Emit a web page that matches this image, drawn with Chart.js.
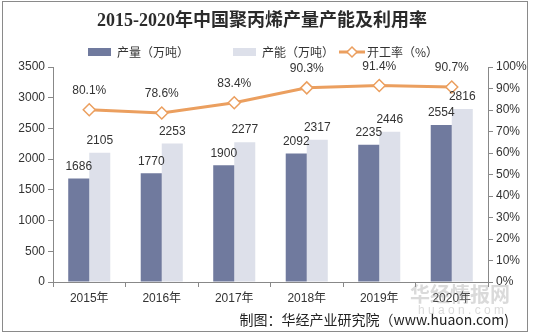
<!DOCTYPE html>
<html>
<head>
<meta charset="utf-8">
<script src="https://cdn.jsdelivr.net/npm/chart.js@4.4.0/dist/chart.umd.min.js"></script>
<style>
  html, body { margin: 0; padding: 0; background: #fff; }
  #wrap { position: relative; width: 533px; height: 336px; }
  #frame { position: absolute; left: 2px; top: 1px; width: 524px; height: 329px; border: 1px solid #8a8a8a; pointer-events: none; }
</style>
</head>
<body>
<div id="wrap">
  <canvas id="chart" width="533" height="336"></canvas>
  <div id="frame"></div>
</div>
<script>
const years = ["2015年", "2016年", "2017年", "2018年", "2019年", "2020年"];
const output = [1686, 1770, 1900, 2092, 2235, 2554]; // 产量（万吨）
const capacity = [2105, 2253, 2277, 2317, 2446, 2816]; // 产能（万吨）
const rate = [80.1, 78.6, 83.4, 90.3, 91.4, 90.7]; // 开工率（%）

const darkBar = "#707a9e";
const lightBar = "#dde0ea";
const lineColor = "#eb9f5f";
const textColor = "#333";
const sansFont = "'Liberation Sans', Arial, 'Noto Sans CJK SC', sans-serif";

// title, legend, value labels and footnote drawn on the canvas
const extras = {
  id: "extras",
  afterDatasetsDraw(chart) {
    const ctx = chart.ctx;
    ctx.save();

    // value labels
    ctx.font = "12px " + sansFont;
    ctx.fillStyle = textColor;
    ctx.textAlign = "center";
    ctx.textBaseline = "middle";
    [0, 1].forEach((di) => {
      chart.getDatasetMeta(di).data.forEach((bar, i) => {
        ctx.fillText(chart.data.datasets[di].data[i], bar.x, bar.y - 12);
      });
    });
    chart.getDatasetMeta(2).data.forEach((pt, i) => {
      ctx.fillText(rate[i].toFixed(1) + "%", pt.x, pt.y - 19);
    });

    // title
    ctx.font = "bold 18px 'Liberation Serif', 'Noto Sans CJK SC', serif";
    ctx.fillStyle = "#2b2b2b";
    ctx.fillText("2015-2020年中国聚丙烯产量产能及利用率", 262, 21);

    // legend
    const ly = 52;
    ctx.font = "12px 'Noto Sans CJK SC', sans-serif";
    ctx.textAlign = "left";
    ctx.fillStyle = darkBar;
    ctx.fillRect(88, ly - 4, 23, 8);
    ctx.fillStyle = textColor;
    ctx.fillText("产量（万吨）", 117, ly);
    ctx.fillStyle = lightBar;
    ctx.fillRect(233, ly - 4, 23, 8);
    ctx.fillStyle = textColor;
    ctx.fillText("产能（万吨）", 262, ly);
    ctx.strokeStyle = lineColor;
    ctx.lineWidth = 3;
    ctx.beginPath();
    ctx.moveTo(339, ly);
    ctx.lineTo(365, ly);
    ctx.stroke();
    ctx.lineWidth = 1.5;
    ctx.fillStyle = "#fff";
    ctx.beginPath();
    ctx.moveTo(352, ly - 5);
    ctx.lineTo(357, ly);
    ctx.lineTo(352, ly + 5);
    ctx.lineTo(347, ly);
    ctx.closePath();
    ctx.fill();
    ctx.stroke();
    ctx.fillStyle = textColor;
    ctx.fillText("开工率（%）", 367, ly);

    // watermark
    ctx.font = "bold 20px 'Noto Sans CJK SC', sans-serif";
    ctx.fillStyle = "rgba(150,150,150,0.35)";
    ctx.fillText("华经情报网", 410, 294);
    ctx.font = "12px " + sansFont;
    ctx.fillText("h u a o n . c o m", 418, 311);

    // footnote
    ctx.font = "14px 'Noto Sans CJK SC', sans-serif";
    ctx.fillStyle = "#222";
    ctx.textAlign = "right";
    ctx.fillText("制图：华经产业研究院（www.huaon.com)", 509, 320);
    ctx.restore();
  },
};

new Chart(document.getElementById("chart").getContext("2d"), {
  data: {
    labels: years,
    datasets: [
      {
        type: "bar",
        label: "产量（万吨）",
        data: output,
        backgroundColor: darkBar,
        yAxisID: "y",
        categoryPercentage: 0.58,
        barPercentage: 1,
        order: 2,
      },
      {
        type: "bar",
        label: "产能（万吨）",
        data: capacity,
        backgroundColor: lightBar,
        yAxisID: "y",
        categoryPercentage: 0.58,
        barPercentage: 1,
        order: 2,
      },
      {
        type: "line",
        label: "开工率（%）",
        data: rate,
        yAxisID: "y1",
        borderColor: lineColor,
        borderWidth: 3,
        pointStyle: "rectRot",
        pointRadius: 6,
        pointBorderWidth: 1.5,
        pointBackgroundColor: "#fff",
        pointBorderColor: lineColor,
        tension: 0,
        order: 1,
      },
    ],
  },
  options: {
    responsive: false,
    animation: false,
    layout: { padding: { top: 67, left: 0, right: 0, bottom: 0 } },
    plugins: {
      legend: { display: false },
      tooltip: { enabled: false },
    },
    scales: {
      x: {
        offset: true,
        grid: {
          offset: true,
          drawOnChartArea: false,
          tickLength: 5,
          color: "#888",
        },
        border: { color: "#888" },
        ticks: { color: textColor, font: { size: 12, family: sansFont }, padding: 4 },
        afterFit: (s) => { s.height = 54; },
      },
      y: {
        position: "left",
        min: 0,
        max: 3500,
        grid: { drawOnChartArea: false, tickLength: 5, color: "#888" },
        border: { color: "#888" },
        ticks: {
          stepSize: 500,
          color: textColor,
          font: { size: 12, family: sansFont },
          padding: 3,
          callback: (v) => String(v),
        },
        afterFit: (s) => { s.width = 53; },
      },
      y1: {
        position: "right",
        min: 0,
        max: 100,
        grid: { drawOnChartArea: false, tickLength: 5, color: "#888" },
        border: { color: "#888" },
        ticks: {
          stepSize: 10,
          color: textColor,
          font: { size: 12, family: sansFont },
          padding: 3,
          callback: (v) => v + "%",
        },
        afterFit: (s) => { s.width = 45; },
      },
    },
  },
  plugins: [extras],
});
</script>
</body>
</html>
